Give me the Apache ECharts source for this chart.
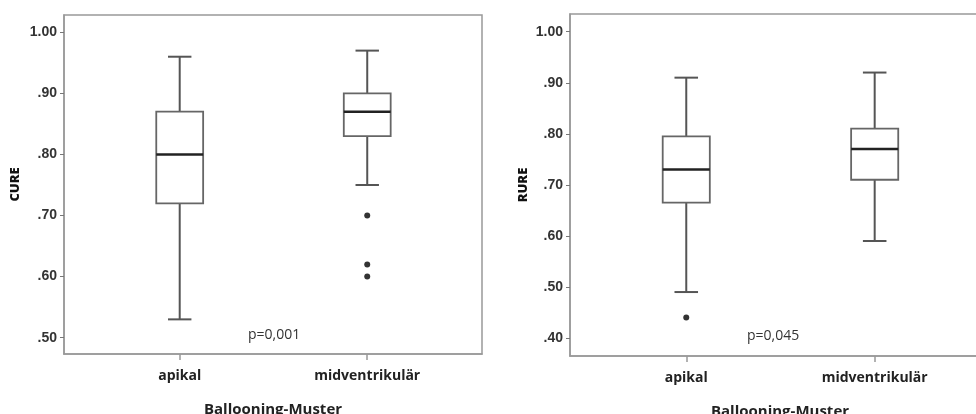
<!DOCTYPE html>
<html>
<head>
<meta charset="utf-8">
<script src="https://cdn.jsdelivr.net/npm/echarts@6/dist/echarts.min.js"></script>
<style>
html,body{margin:0;padding:0;background:#fff;}
#chart{width:976px;height:414px;}
</style>
</head>
<body>
<div id="chart"></div>
<script>
// ---- data ----
const categories = ['apikal', 'midventrikulär'];
const yTicksCure = [0.5, 0.6, 0.7, 0.8, 0.9, 1.0];
const yTicksRure = [0.4, 0.5, 0.6, 0.7, 0.8, 0.9, 1.0];

const cureMin = [0.53, 0.75];
const cureQ1 = [0.72, 0.83];
const cureMedian = [0.80, 0.87];
const cureQ3 = [0.87, 0.90];
const cureMax = [0.96, 0.97];
const cureOutliers = [[], [0.70, 0.62, 0.60]];

const rureMin = [0.49, 0.59];
const rureQ1 = [0.665, 0.71];
const rureMedian = [0.73, 0.77];
const rureQ3 = [0.795, 0.81];
const rureMax = [0.91, 0.92];
const rureOutliers = [[0.44], []];

const pCure = 'p=0,001';
const pRure = 'p=0,045';
const xTitle = 'Ballooning-Muster';

// ---- build ----
function boxData(mn, q1, md, q3, mx) {
  return categories.map((c, i) => [i, mn[i], q1[i], md[i], q3[i], mx[i]]);
}
function outlierData(out) {
  const r = [];
  out.forEach((arr, i) => arr.forEach(v => r.push([i, v])));
  return r;
}
const fmtY = v => { const s = v.toFixed(2); return s.startsWith('0') ? s.slice(1) : s; };

function renderBox(params, api) {
  const x = api.value(0);
  const pMin = api.coord([x, api.value(1)]);
  const pQ1 = api.coord([x, api.value(2)]);
  const pMd = api.coord([x, api.value(3)]);
  const pQ3 = api.coord([x, api.value(4)]);
  const pMax = api.coord([x, api.value(5)]);
  const bw = api.size([0.25, 0])[0];
  const hw = bw / 2, cw = bw / 4;
  const cx = pQ1[0];
  const wStyle = { stroke: '#555', lineWidth: 2, fill: null };
  return {
    type: 'group',
    children: [
      { type: 'line', shape: { x1: cx, y1: pQ3[1], x2: cx, y2: pMax[1] }, style: wStyle },
      { type: 'line', shape: { x1: cx, y1: pQ1[1], x2: cx, y2: pMin[1] }, style: wStyle },
      { type: 'line', shape: { x1: cx - cw, y1: pMax[1], x2: cx + cw, y2: pMax[1] }, style: wStyle },
      { type: 'line', shape: { x1: cx - cw, y1: pMin[1], x2: cx + cw, y2: pMin[1] }, style: wStyle },
      { type: 'rect', shape: { x: cx - hw, y: pQ3[1], width: bw, height: pQ1[1] - pQ3[1] },
        style: { stroke: '#666', lineWidth: 1.8, fill: '#fff' } },
      { type: 'line', shape: { x1: cx - hw, y1: pMd[1], x2: cx + hw, y2: pMd[1] },
        style: { stroke: '#222', lineWidth: 2.5 } }
    ]
  };
}

const axisGray = '#999';
function xAxisCfg(gi) {
  return {
    gridIndex: gi, type: 'value', min: -0.617, max: 1.612,
    splitLine: { show: false },
    axisLine: { onZero: false, lineStyle: { color: axisGray, width: 1.5 } },
    axisTick: { customValues: [0, 1], length: 6, lineStyle: { color: axisGray, width: 1.5 } },
    axisLabel: { customValues: [0, 1], formatter: v => categories[Math.round(v)] || '',
      margin: 15, fontFamily: 'Open Sans', fontWeight: 'bold', fontSize: 14, color: '#222' },
    name: xTitle, nameLocation: 'middle', nameGap: 48,
    nameTextStyle: { fontFamily: 'Open Sans', fontWeight: 'bold', fontSize: 15, color: '#222' }
  };
}
function yAxisCfg(gi, min, max, ticks, name, gap) {
  return {
    gridIndex: gi, type: 'value', min: min, max: max,
    splitLine: { show: false },
    axisLine: { show: true, onZero: false, lineStyle: { color: axisGray, width: 1.5 } },
    axisTick: { show: true, customValues: ticks, length: 4, lineStyle: { color: '#777', width: 1 } },
    axisLabel: { customValues: ticks, formatter: fmtY, margin: 7,
      fontFamily: 'Liberation Sans', fontWeight: 'bold', fontSize: 14, color: '#333' },
    name: name, nameLocation: 'middle', nameGap: gap,
    nameTextStyle: { fontFamily: 'Open Sans', fontWeight: 800, fontSize: 13, color: '#111' }
  };
}

const chart = echarts.init(document.getElementById('chart'));
chart.setOption({
  animation: false,
  backgroundColor: '#fff',
  grid: [
    { left: 64, top: 15, width: 418, height: 339, show: true, borderColor: axisGray, borderWidth: 1.5,
      containLabel: false, outerBoundsMode: 'none' },
    { left: 570, top: 14, width: 420, height: 342, show: true, borderColor: axisGray, borderWidth: 1.5,
      containLabel: false, outerBoundsMode: 'none' }
  ],
  xAxis: [xAxisCfg(0), xAxisCfg(1)],
  yAxis: [
    yAxisCfg(0, 0.4733, 1.0283, yTicksCure, 'CURE', 42),
    yAxisCfg(1, 0.3647, 1.0347, yTicksRure, 'RURE', 40)
  ],
  series: [
    { type: 'custom', xAxisIndex: 0, yAxisIndex: 0, renderItem: renderBox,
      data: boxData(cureMin, cureQ1, cureMedian, cureQ3, cureMax), silent: true },
    { type: 'scatter', xAxisIndex: 0, yAxisIndex: 0, symbolSize: 6,
      itemStyle: { color: '#000' }, data: outlierData(cureOutliers) },
    { type: 'custom', xAxisIndex: 1, yAxisIndex: 1, renderItem: renderBox,
      data: boxData(rureMin, rureQ1, rureMedian, rureQ3, rureMax), silent: true },
    { type: 'scatter', xAxisIndex: 1, yAxisIndex: 1, symbolSize: 6,
      itemStyle: { color: '#000' }, data: outlierData(rureOutliers) }
  ],
  graphic: [
    { type: 'text', left: 248, top: 328, style: { text: pCure, fontFamily: 'Open Sans', fontSize: 14, fill: '#333' } },
    { type: 'text', left: 747, top: 329, style: { text: pRure, fontFamily: 'Open Sans', fontSize: 14, fill: '#333' } }
  ]
});
</script>
</body>
</html>
